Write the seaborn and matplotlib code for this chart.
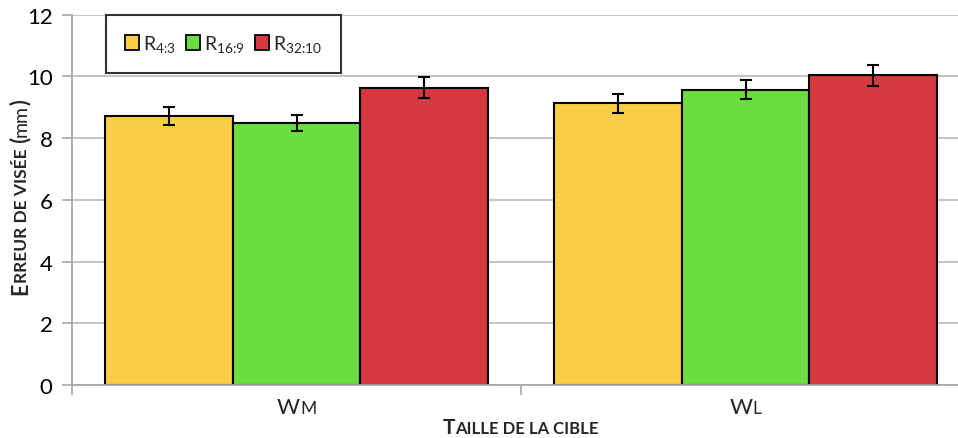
import matplotlib
matplotlib.use("Agg")
import matplotlib.pyplot as plt
import pandas as pd
import seaborn as sns
from matplotlib.transforms import IdentityTransform

# data
categories = ["WM", "WL"]
ratios = [r"R$_{\text{4:3}}$", r"R$_{\text{16:9}}$", r"R$_{\text{32:10}}$"]
values = {
    ratios[0]: [8.73, 9.13],
    ratios[1]: [8.50, 9.57],
    ratios[2]: [9.63, 10.03],
}
errors = {
    ratios[0]: [0.29, 0.31],
    ratios[1]: [0.26, 0.31],
    ratios[2]: [0.34, 0.34],
}
colors = ["#F9CE46", "#6BDD40", "#D43A40"]
tick_parts = [("W", "M"), ("W", "L")]

W, H = 958, 439
FONT = "Lato"

sns.set_theme(style="white")
plt.rcParams["font.family"] = [FONT, "DejaVu Sans"]
plt.rcParams["mathtext.fontset"] = "custom"
plt.rcParams["mathtext.rm"] = FONT
plt.rcParams["mathtext.it"] = FONT

rows = []
for r in ratios:
    for c, v in zip(categories, values[r]):
        rows.append(dict(taille=c, ratio=r, erreur=v))
df = pd.DataFrame(rows)

fig = plt.figure(figsize=(W / 100, H / 100), dpi=100)
ax = fig.add_axes([72 / W, (H - 386) / H, 898 / W, 370.3 / H])

sns.barplot(
    data=df, x="taille", y="erreur", hue="ratio", order=categories,
    hue_order=ratios, palette=colors, width=0.855, gap=0, errorbar=None,
    edgecolor="black", linewidth=1.5, saturation=1, ax=ax,
)

for cont, r in zip(ax.containers, ratios):
    xs = [b.get_x() + b.get_width() / 2 for b in cont]
    ax.errorbar(xs, values[r], yerr=errors[r], fmt="none", ecolor="black",
                elinewidth=1.5, capsize=4.5, capthick=1.5, zorder=5)

ax.set_ylim(0, 12)
ax.set_xlim(-0.5, 1.5)
ax.set_yticks(range(0, 13, 2))
ax.tick_params(axis="y", labelsize=16, length=7, width=1.2, color="#A6A6A6",
               pad=7, left=True, labelcolor="black")
ax.set_xticks([0, 1])
ax.set_xticklabels(["", ""])
ax.tick_params(axis="x", length=0)
ax.set_xticks([-0.5, 0.5, 1.5], minor=True)
ax.tick_params(axis="x", which="minor", length=7, width=1.2, color="#A6A6A6",
               bottom=True)
ax.yaxis.grid(True, color="#BFBFBF", linewidth=1.3)
ax.set_axisbelow(True)
for s in ["top", "right"]:
    ax.spines[s].set_visible(False)
for s in ["left", "bottom"]:
    ax.spines[s].set_color("#A6A6A6")
    ax.spines[s].set_linewidth(1.3)
ax.set_xlabel("")
ax.set_ylabel("")

leg = ax.legend(
    loc="upper left", bbox_to_anchor=(0.038, 1.0), ncol=3, frameon=True,
    fancybox=False, edgecolor="black", fontsize=14, handlelength=0.75,
    handleheight=0.75, handletextpad=0.2, columnspacing=0.5, borderpad=0.95,
    borderaxespad=0, title=None,
)
leg.get_frame().set_linewidth(1.5)
for h in leg.legend_handles:
    h.set_edgecolor("black")
    h.set_linewidth(1.3)

renderer = fig.canvas.get_renderer()


def text_width(s, size, weight):
    t = fig.text(0, 0, s, size=size, weight=weight)
    w = t.get_window_extent(renderer).width
    t.remove()
    return w


def draw_parts(parts, cx, base, vertical=False):
    # parts: (text, size, weight); small caps built from several sizes
    widths = [text_width(s, sz, wt) for s, sz, wt in parts]
    pos = -sum(widths) / 2
    for (s, sz, wt), w in zip(parts, widths):
        if vertical:
            fig.text(base, cx + pos, s, size=sz, weight=wt, rotation=90,
                     rotation_mode="anchor", ha="left", va="baseline",
                     transform=IdentityTransform())
        else:
            fig.text(cx + pos, base, s, size=sz, weight=wt, ha="left",
                     va="baseline", transform=IdentityTransform())
        pos += w


# x tick labels (small caps)
for i, (a, b) in enumerate(tick_parts):
    px = ax.transData.transform((i, 0))[0]
    draw_parts([(a, 16, "normal"), (b, 12.5, "normal")], px, H - 414)

# axis titles
draw_parts([("T", 15, "bold"), ("AILLE DE LA CIBLE", 12, "bold")],
           ax.transData.transform((0.5, 0))[0], H - 434)
draw_parts([("E", 15.5, "bold"), ("RREUR DE VISÉE", 12.5, "bold"),
            (" (", 15.5, "bold"), ("mm", 14, "normal"), (")", 15.5, "bold")],
           H - 197, 27, vertical=True)

fig.savefig("out.png", dpi=100)
